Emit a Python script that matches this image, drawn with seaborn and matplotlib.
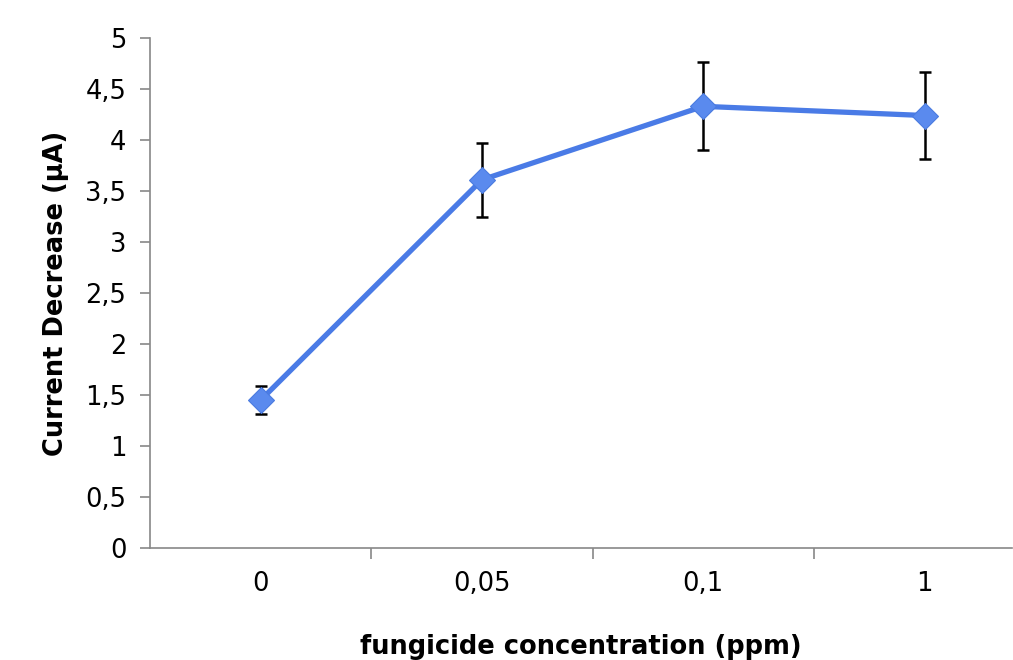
import matplotlib
matplotlib.use("Agg")
import matplotlib.pyplot as plt
import seaborn as sns
import pandas as pd

categories = ["0", "0,05", "0,1", "1"]
values = [1.45, 3.61, 4.33, 4.24]
errors = [0.14, 0.36, 0.43, 0.43]
yticks = [0, 0.5, 1, 1.5, 2, 2.5, 3, 3.5, 4, 4.5, 5]
ytick_labels = ["0", "0,5", "1", "1,5", "2", "2,5", "3", "3,5", "4", "4,5", "5"]

sns.set_style("white")
plt.rcParams['font.family'] = ['DejaVu Sans']
plt.rcParams['text.color'] = 'black'
plt.rcParams['axes.labelcolor'] = 'black'
plt.rcParams['xtick.labelcolor'] = 'black'
plt.rcParams['ytick.labelcolor'] = 'black'

W, H = 1013, 660
fig = plt.figure(figsize=(W / 100, H / 100), dpi=100)
ax = fig.add_axes([150 / W, (H - 548) / H, (1012 - 150) / W, 510 / H])

df = pd.DataFrame({"pos": range(len(categories)), "val": values})
line_color = "#4A7BE6"

ax.errorbar(df["pos"], df["val"], yerr=errors, fmt="none", ecolor="black",
            elinewidth=1.8, capsize=4.5, capthick=1.8, zorder=2)
sns.lineplot(data=df, x="pos", y="val", ax=ax, color=line_color, linewidth=3.8,
             marker="D", markersize=13.5, markerfacecolor="#5A8AEE",
             markeredgecolor="#4A7BE0", markeredgewidth=0.8, zorder=3)

ax.set_xlim(-0.5, (1012 - 260) / 221.5)
ax.set_ylim(0, 5)
ax.set_yticks(yticks)
ax.set_yticklabels(ytick_labels)
ax.set_xticks(range(len(categories)))
ax.set_xticklabels(categories)
ax.set_xticks([0.5, 1.5, 2.5], minor=True)

for s in ["top", "right"]:
    ax.spines[s].set_visible(False)
for s in ["left", "bottom"]:
    ax.spines[s].set_color("#888888")
    ax.spines[s].set_linewidth(1.2)

ax.tick_params(axis="y", which="major", left=True, length=7, width=1.2,
               color="#888888", labelsize=18.5, pad=10, direction="out")
ax.tick_params(axis="x", which="major", bottom=False, labelsize=18.5, pad=13)
ax.tick_params(axis="x", which="minor", bottom=True, length=8, width=1.2,
               color="#888888", direction="out")

ax.set_xlabel("fungicide concentration (ppm)", fontsize=18.5, fontweight="bold", labelpad=27)
ax.set_ylabel("Current Decrease (µA)", fontsize=18.5, fontweight="bold", labelpad=12)

fig.savefig("out.png", dpi=100)
